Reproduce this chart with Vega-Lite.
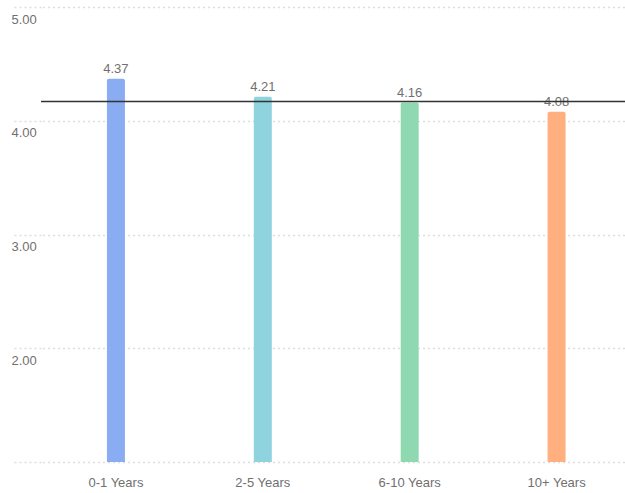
{
  "$schema": "https://vega.github.io/schema/vega-lite/v6.json",
  "width": 585,
  "height": 455,
  "padding": {"left": 10, "top": 6, "right": 0, "bottom": 0},
  "autosize": {"type": "pad"},
  "background": "white",
  "config": {
    "view": {"stroke": null},
    "font": "Liberation Sans"
  },
  "data": {
    "values": [
      {"group": "0-1 Years", "score": 4.37, "avg": 4.17},
      {"group": "2-5 Years", "score": 4.21, "avg": 4.17},
      {"group": "6-10 Years", "score": 4.16, "avg": 4.17},
      {"group": "10+ Years", "score": 4.08, "avg": 4.17}
    ]
  },
  "encoding": {
    "x": {
      "field": "group",
      "type": "nominal",
      "sort": null,
      "scale": {"range": [1.5, 589], "paddingInner": 0, "paddingOuter": 0},
      "axis": {
        "title": null,
        "domain": false,
        "ticks": false,
        "labelAngle": 0,
        "labelFontSize": 13,
        "labelColor": "#707070",
        "labelPadding": 14,
        "labelFont": "Liberation Sans"
      }
    }
  },
  "layer": [
    {
      "mark": {"type": "bar", "width": 18, "cornerRadiusTopLeft": 2, "cornerRadiusTopRight": 2},
      "encoding": {
        "y": {
          "field": "score",
          "type": "quantitative",
          "scale": {"domain": [1, 5], "zero": false, "nice": false},
          "axis": {
            "title": null,
            "values": [1, 2, 3, 4, 5],
            "labelExpr": "datum.value == 1 ? '' : format(datum.value, '.2f')",
            "domain": false,
            "grid": true,
            "gridColor": "#dddddd",
            "gridDash": [2, 3],
            "gridWidth": 1.5,
            "ticks": true,
            "tickSize": 30,
            "tickColor": "#dddddd",
            "tickDash": [2, 3],
            "tickWidth": 1.5,
            "labelAlign": "left",
            "labelBaseline": "top",
            "labelPadding": 0,
            "labelOffset": 6,
            "labelFontSize": 13,
            "labelColor": "#707070",
            "labelFont": "Liberation Sans"
          }
        },
        "y2": {"datum": 1},
        "color": {
          "field": "group",
          "type": "nominal",
          "sort": null,
          "legend": null,
          "scale": {
            "domain": ["0-1 Years", "2-5 Years", "6-10 Years", "10+ Years"],
            "range": ["#8AACF2", "#8FD3DE", "#8FD9B0", "#FFB07E"]
          }
        }
      }
    },
    {
      "mark": {"type": "text", "dy": -6, "baseline": "alphabetic", "fontSize": 13, "color": "#707070", "font": "Liberation Sans"},
      "encoding": {
        "y": {"field": "score", "type": "quantitative"},
        "text": {"field": "score", "type": "quantitative", "format": ".2f"}
      }
    },
    {
      "mark": {"type": "rule", "color": "#333333", "strokeWidth": 1.5},
      "encoding": {
        "x": null,
        "y": {"aggregate": "mean", "field": "avg", "type": "quantitative"}
      }
    }
  ]
}
